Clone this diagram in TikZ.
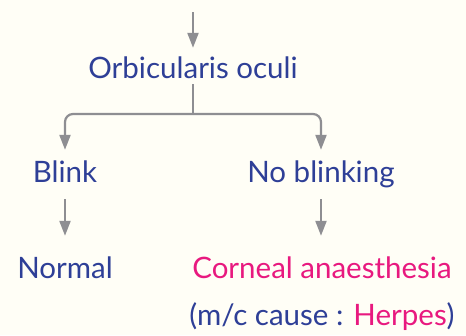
\documentclass[tikz,border=0pt]{standalone}
\usepackage{fontspec}
\setmainfont{Lato}
\usepackage{xcolor}
\usetikzlibrary{
    arrows.meta,
    positioning,
    calc
}
\definecolor{ink}{HTML}{2E3F97}
\definecolor{hot}{HTML}{E8197F}
\definecolor{wire}{HTML}{8E8E92}
\definecolor{paper}{HTML}{FFFEF6}

\begin{document}
\begin{tikzpicture}[x=1pt, y=-1pt, >={Triangle[width=11pt,length=15pt]}, text-node/.style={
                inner sep=0pt, text height=21pt, text depth=6pt, anchor=base, text=ink, font=\fontsize{29.5}{32}\selectfont},
                link/.style={draw=wire, line width=2.2pt}]
                \fill [paper] (0,0) rectangle (466,335);
                \useasboundingbox (0,0) rectangle (466,335);
                \coordinate (top) at (193,12);
                \coordinate (split) at (193,114);
                \node [text-node] (orb) at (193,78) {Orbicularis oculi};
                \node [text-node] (blink) at (65,182) {Blink};
                \node [text-node] (noblink) at (321,182) {No blinking};
                \node [text-node] (normal) at (65,278) {Normal};
                \node [text-node, text=hot] (corneal) at (322,278) {Corneal anaesthesia};
                \node [text-node] (cause) at (322,325) {(m/c cause : \textcolor{hot}{Herpes})};
                \draw [link, ->, shorten >=9pt] (top) -- (orb.north);
                \draw [link] (orb.south) -- (split);
                \draw [link, ->, rounded corners=8pt, shorten >=11pt] (split) -| (blink.north);
                \draw [link, ->, rounded corners=8pt, shorten >=11pt] (split) -| (noblink.north);
                \draw [link, ->, shorten <=11pt, shorten >=21pt] (blink.south) -- (normal.north);
                \draw [link, ->, shorten <=11pt, shorten >=21pt] (noblink.south) -- (noblink.south |- corneal.north);
            \end{tikzpicture}
\end{document}
